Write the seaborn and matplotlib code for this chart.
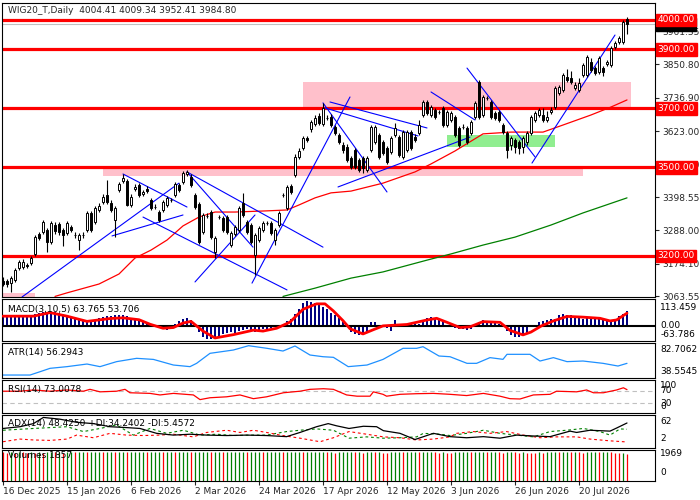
import numpy as np
import pandas as pd
import matplotlib
matplotlib.use("Agg")
import matplotlib.pyplot as plt
import matplotlib.transforms as mtrans
from matplotlib.patches import Rectangle
import seaborn as sns

sns.set_style("white")
plt.rcParams['font.family'] = ['DejaVu Sans']

# ---------------- data ----------------
opens = [3116, 3114, 3108, 3119, 3159, 3162, 3168, 3176, 3207, 3275,
         3281, 3288, 3247, 3305, 3308, 3288, 3278, 3298, 3272, 3254,
         3272, 3288, 3346, 3315, 3356, 3383, 3407, 3380, 3322, 3424,
         3454, 3454, 3373, 3427, 3441, 3410, 3427, 3390, 3367, 3349,
         3356, 3373, 3391, 3407, 3441, 3451, 3478, 3468, 3407, 3376,
         3281, 3337, 3349, 3213, 3333, 3329, 3332, 3237, 3275, 3288,
         3380, 3315, 3305, 3203, 3254, 3288, 3313, 3312, 3254, 3305,
         3408, 3363, 3437, 3475, 3536, 3566, 3600, 3630, 3647, 3675,
         3647, 3669, 3671, 3637, 3610, 3576, 3569, 3532, 3559, 3525,
         3532, 3491, 3559, 3586, 3610, 3586, 3566, 3553, 3610, 3603,
         3536, 3559, 3620, 3603, 3617, 3678, 3722, 3678, 3695, 3689,
         3702, 3644, 3661, 3671, 3634, 3638, 3634, 3617, 3671, 3790,
         3678, 3737, 3722, 3685, 3688, 3644, 3617, 3576, 3593, 3586,
         3569, 3586, 3617, 3661, 3678, 3678, 3661, 3688, 3705, 3753,
         3763, 3807, 3803, 3770, 3763, 3814, 3814, 3858, 3837, 3824,
         3837, 3850, 3847, 3908, 3925, 3925, 4004.41]
closes = [3106, 3104, 3125, 3152, 3180, 3180, 3166, 3193, 3264, 3261,
          3315, 3247, 3312, 3285, 3281, 3271, 3312, 3288, 3271, 3271,
          3270, 3346, 3288, 3363, 3369, 3400, 3383, 3356, 3363, 3444,
          3464, 3373, 3400, 3434, 3407, 3417, 3420, 3363, 3366, 3322,
          3383, 3397, 3390, 3444, 3424, 3481, 3485, 3441, 3366, 3247,
          3339, 3336, 3264, 3261, 3332, 3288, 3281, 3278, 3298, 3363,
          3339, 3281, 3247, 3271, 3295, 3312, 3312, 3278, 3288, 3346,
          3407, 3434, 3417, 3536, 3556, 3600, 3593, 3655, 3668, 3651,
          3702, 3668, 3644, 3617, 3586, 3559, 3525, 3502, 3502, 3491,
          3498, 3532, 3637, 3637, 3536, 3549, 3519, 3600, 3634, 3542,
          3620, 3620, 3566, 3593, 3644, 3722, 3685, 3705, 3671, 3688,
          3644, 3688, 3685, 3610, 3576, 3637, 3586, 3654, 3719, 3671,
          3739, 3736, 3671, 3668, 3661, 3620, 3559, 3600, 3569, 3566,
          3600, 3617, 3671, 3685, 3695, 3661, 3671, 3695, 3769, 3773,
          3814, 3797, 3790, 3780, 3786, 3847, 3875, 3830, 3820, 3871,
          3824, 3858, 3905, 3922, 3939, 3993, 3984.80]
highs = [3128, 3122, 3132, 3160, 3188, 3190, 3175, 3200, 3270, 3282,
         3322, 3295, 3318, 3315, 3315, 3295, 3320, 3305, 3280, 3278,
         3280, 3352, 3352, 3370, 3378, 3410, 3458, 3390, 3370, 3452,
         3478, 3462, 3410, 3444, 3448, 3424, 3437, 3397, 3376, 3356,
         3390, 3403, 3398, 3451, 3448, 3488, 3492, 3478, 3415, 3383,
         3346, 3346, 3356, 3268, 3340, 3336, 3340, 3285, 3305, 3370,
         3415, 3322, 3312, 3278, 3302, 3318, 3320, 3318, 3295, 3352,
         3415, 3441, 3444, 3545, 3565, 3608, 3608, 3662, 3678, 3685,
         3719, 3678, 3680, 3645, 3618, 3585, 3578, 3540, 3566, 3532,
         3540, 3540, 3645, 3645, 3618, 3593, 3573, 3608, 3652, 3610,
         3628, 3627, 3628, 3612, 3660, 3730, 3730, 3712, 3702, 3696,
         3710, 3695, 3692, 3678, 3640, 3646, 3641, 3661, 3726, 3797,
         3746, 3744, 3729, 3692, 3695, 3651, 3624, 3607, 3600, 3593,
         3607, 3624, 3678, 3692, 3702, 3700, 3690, 3705, 3776, 3780,
         3821, 3835, 3828, 3790, 3805, 3854, 3882, 3870, 3845, 3879,
         3844, 3866, 3912, 3930, 3946, 4000, 4009.34]
lows = [3098, 3095, 3078, 3112, 3152, 3155, 3158, 3168, 3200, 3255,
        3275, 3213, 3240, 3275, 3272, 3234, 3270, 3280, 3262, 3220,
        3262, 3282, 3282, 3308, 3350, 3376, 3376, 3350, 3264, 3418,
        3448, 3368, 3366, 3420, 3400, 3403, 3412, 3356, 3358, 3315,
        3349, 3366, 3383, 3400, 3418, 3444, 3470, 3434, 3360, 3240,
        3275, 3328, 3258, 3193, 3325, 3281, 3275, 3230, 3268, 3281,
        3332, 3275, 3240, 3136, 3247, 3282, 3305, 3271, 3237, 3298,
        3400, 3356, 3410, 3468, 3530, 3559, 3586, 3620, 3640, 3644,
        3640, 3660, 3637, 3610, 3578, 3550, 3518, 3495, 3495, 3484,
        3480, 3484, 3552, 3580, 3530, 3542, 3512, 3546, 3604, 3536,
        3530, 3552, 3558, 3586, 3610, 3672, 3678, 3670, 3664, 3680,
        3637, 3636, 3654, 3603, 3569, 3630, 3578, 3610, 3664, 3664,
        3671, 3728, 3664, 3660, 3654, 3613, 3532, 3560, 3548, 3545,
        3550, 3575, 3610, 3654, 3671, 3654, 3654, 3680, 3698, 3746,
        3756, 3790, 3783, 3763, 3756, 3807, 3807, 3823, 3813, 3817,
        3810, 3843, 3840, 3900, 3918, 3918, 3952.41]

# moving averages (bar, price) read at intervals
ma_red = [(13, 3063), (16, 3075), (24, 3105), (29, 3139), (33, 3193), (37, 3220),
          (41, 3254), (45, 3302), (49, 3332), (53, 3349), (58, 3349), (66, 3353),
          (71, 3356), (74, 3373), (78, 3397), (82, 3414), (87, 3420), (95, 3447),
          (103, 3485), (107, 3512), (113, 3556), (120, 3614), (127, 3620),
          (135, 3620), (140, 3644), (147, 3678), (152, 3705), (156, 3729)]
ma_green = [(70, 3063), (78, 3091), (87, 3125), (95, 3146), (106, 3186),
            (112, 3207), (120, 3237), (128, 3264), (137, 3305), (145, 3346),
            (156, 3397)]

levels = [4000, 3900, 3700, 3500, 3200]
price_ticks = [3961.35, 3850.80, 3736.90, 3623.00, 3509.10, 3398.55, 3288.00, 3174.10, 3063.55]
bid = 3984.80

# zones: (bar_from, bar_to, price_lo, price_hi)
pink_zones = [(75, 157, 3700, 3790), (25, 145, 3471, 3500), (-0.25, 8, 3058, 3075)]
green_zones = [(111, 138, 3569, 3610)]

# trendlines: ((bar, price), (bar, price))
trendlines = [((4.75, 3061), (44, 3447)), ((30, 3478), (46, 3366)),
              ((27.25, 3268), (45, 3339)), ((35, 3332), (71, 3085)),
              ((46, 3485), (80, 3230)), ((46, 3485), (62.5, 3230)),
              ((48, 3112), (63, 3339)), ((62.25, 3108), (86.75, 3739)),
              ((80, 3719), (96, 3417)), ((81.75, 3722), (106, 3634)),
              ((80.5, 3702), (103.75, 3607)), ((83.75, 3434), (116.75, 3603)),
              ((107, 3756), (118, 3661)), ((116, 3837), (133, 3536)),
              ((132.25, 3515), (153, 3949))]

macd_hist = [46, 46, 45, 45, 44, 44, 45, 46,
             50, 55, 57, 58, 58, 57, 55, 52,
             40, 35, 30, 28, 25, 22, 20, 22,
             32, 38, 40, 40, 45, 48, 47, 42,
             30, 25, 20, 18, 12, 8, 4, -10, -15, -18, -3,
             10, 20, 30, 33, 25, 2,
             -25, -45, -55, -57, -55, -45, -35,
             -30, -25, -28, -20, -18,
             -15, -20, -25, -22, -15, -12,
             -8, -5, -3, 0, 20, 30,
             50, 70, 95, 104, 100, 95, 90,
             80, 70, 55, 45, 35, 15, -5,
             -25, -35, -40, -38, -30, 15, 18,
             3, -3, -10, -22, 25, 8, 6, 5, 8, 10, 6,
             25, 35, 38, 35, 30, 20,
             2, -5, -10, -15, -15, -18, -12,
             10, 18, 25, 20, 15, 12, 10, 8,
             -20, -40, -45, -45, -40, -35, -5, 0,
             15, 20, 25, 28, 30,
             45, 50, 48, 45, 35, 35, 30,
             32, 33, 30, 28, 25, 22, 20, 25,
             40, 50, 63.765]
macd_signal = [(0, 41), (7.6, 41), (11.75, 56), (16, 41), (21, 19), (26.75, 31),
               (30, 34), (34, 26), (36.75, 7), (40, -10), (42.6, -7), (45, 12),
               (47, 19), (50, -22), (53, -51), (57.6, -37), (62.6, -18), (65, -22),
               (68.4, -10), (71.75, 16), (75, 70), (78.4, 93), (80.5, 93), (82.6, 63),
               (85, 22), (86.75, -12), (90, -34), (92.6, -16), (95, 0), (101, 6),
               (106, 25), (108.4, 32), (111, 15), (114.25, -7), (116.75, -4),
               (120, 18), (124.25, 15), (126.75, -19), (130, -38), (132, -26),
               (134.6, 0), (137.6, 21), (141, 40), (145, 37), (149.25, 32),
               (151.75, 21), (153.4, 25), (156, 53.706)]

atr = [(0, 41.1), (6.75, 41.1), (9.25, 45.4), (11.75, 49.8), (16, 52), (21, 55.4),
       (24.25, 52), (28.4, 58.5), (33.4, 62.8), (37.6, 61.4), (42.6, 54.1),
       (46.75, 52), (48.4, 56.3), (51.75, 69.3), (57.6, 73.6), (61.4, 79.2),
       (66, 75.8), (70, 72.3), (73, 78.8), (76.75, 67.1), (80, 64.9), (82.6, 64.1),
       (86.3, 52), (91, 54.1), (95, 61.4), (100, 75.8), (103.4, 75.8), (105, 77.9),
       (109, 65.8), (111.75, 64.9), (116, 56.3), (118.4, 56.3), (121.75, 63.7),
       (125, 61.5), (126, 68), (131.75, 68), (134.25, 59.3), (137.6, 63.7),
       (141, 58.5), (145, 59.3), (150, 56.3), (153.75, 52.8), (156, 56.29)]

rsi = [(0, 68), (4.25, 68), (7.6, 72), (11.75, 68), (16, 72), (20.1, 68), (21.75, 74),
       (24.25, 66), (28.4, 68), (30.5, 74), (31.75, 63), (36.75, 61), (39.25, 56),
       (42.6, 61), (47.6, 56), (49.25, 41), (51.75, 47), (55.9, 50), (59.25, 56),
       (62.6, 44), (65.9, 50), (70.1, 63), (74.25, 68), (76.75, 74), (80.1, 76),
       (82.6, 74), (85.9, 56), (88.5, 52), (91.75, 52), (92.6, 66), (95, 58),
       (95.9, 52), (99.25, 58), (103.4, 60), (107.6, 61), (111.75, 58), (115.9, 54),
       (120.1, 61), (124.25, 52), (126.75, 44), (129.25, 43), (132.6, 56),
       (136.75, 58), (138.4, 68), (143.4, 66), (145.9, 72), (147.6, 63),
       (150.1, 63), (153.4, 72), (155.1, 79), (156, 73.0)]

adx = [(0, 36), (4.25, 40), (7.6, 47), (10.1, 61), (14.25, 57), (18.4, 50), (22.6, 47),
       (26.75, 40), (30.9, 38), (34.25, 36), (38.4, 25), (42.6, 21), (46.75, 23),
       (50.9, 21), (55.9, 20), (60.9, 21), (65.9, 20), (70.9, 17.5), (74.25, 27),
       (78.4, 40), (81.3, 47), (83.4, 42), (86.5, 36), (90.1, 41), (93.4, 40),
       (95.1, 31), (99.25, 25), (103, 11), (107.6, 25), (111.75, 17.5), (115.9, 15),
       (120.1, 17.5), (124.25, 14), (128.4, 21), (132.6, 19), (136.75, 17.5),
       (141.75, 30), (143.4, 27), (146.75, 32), (151.75, 30), (153.4, 37), (156, 48.4)]
plus_di = [(0, 32), (7.6, 36), (16, 40), (20.1, 29), (24.25, 36), (28.4, 44),
           (32.6, 21), (36.75, 36), (40.9, 25), (45.1, 32), (49.25, 21), (53.4, 23),
           (57.6, 20), (61.75, 21), (65.9, 21), (70.9, 29), (74.25, 32), (78.4, 35),
           (82.6, 32), (86.5, 14), (90.9, 17), (95.1, 14), (99.25, 15), (103.4, 17),
           (105.1, 25), (109.25, 23), (111.75, 20), (115.9, 25), (120.1, 32),
           (124.25, 25), (128.4, 21), (132.6, 17), (136.75, 29), (140.9, 32),
           (145.1, 36), (149.25, 29), (151.75, 21), (154.25, 35), (156, 34.24)]
minus_di = [(0, 6), (4.25, 12), (7.6, 10), (11.75, 9), (16, 12), (18.4, 21), (22.6, 15),
            (26.75, 25), (30.9, 21), (35.1, 20), (39.25, 21), (42.6, 23), (47.6, 17),
            (50.9, 27), (55.9, 32), (59.25, 27), (62.6, 32), (65.9, 27), (69.25, 21),
            (74.25, 14), (79.25, 6), (82.6, 15), (86.5, 29), (90.9, 23), (95.1, 17),
            (99.25, 15), (103.4, 10), (107.6, 12), (111.75, 17), (113.4, 25),
            (117.6, 29), (121.75, 25), (125.9, 29), (130.1, 21), (134.25, 15),
            (138.4, 17), (143.4, 17), (146.75, 12), (151.75, 8), (156, 5.46)]

volumes = [1940, 1925, 1950, 1930, 1955, 1935, 1915, 1945, 1925, 1950,
           1930, 1945, 1960, 1935, 1950, 1930, 1948, 1962, 1940, 1955,
           1966, 1940, 1950, 1958, 1965, 1935, 1950, 1962, 1940, 1955,
           1965, 1938, 1945, 1952, 1960, 1967, 1935, 1945, 1955, 1963,
           1940, 1950, 1960, 1935, 1945, 1955, 1965, 1940, 1952, 1963,
           1968, 1969, 1940, 1952, 1962, 1938, 1946, 1955, 1962, 1966,
           1969, 1942, 1950, 1958, 1965, 1940, 1948, 1955, 1961, 1967,
           1938, 1946, 1954, 1960, 1966, 1940, 1950, 1958, 1965, 1968,
           1969, 1935, 1950, 1930, 1945, 1955, 1962, 1967, 1940, 1950,
           1900, 1945, 1958, 1935, 1950, 1930, 1915, 1935, 1955, 1965,
           1940, 1950, 1958, 1965, 1938, 1948, 1958, 1966, 1942, 1925,
           1945, 1928, 1915, 1935, 1948, 1958, 1966, 1940, 1955, 1962,
           1968, 1940, 1952, 1962, 1938, 1922, 1945, 1958, 1935, 1920,
           1945, 1930, 1915, 1900, 1935, 1920, 1940, 1955, 1965, 1940,
           1952, 1962, 1938, 1950, 1932, 1918, 1940, 1955, 1965, 1940,
           1952, 1962, 1935, 1915, 1895, 1930, 1857]

date_bars = [0, 16, 32, 48, 64, 80, 96, 112, 128, 144]
date_labels = ["16 Dec 2025", "15 Jan 2026", "6 Feb 2026", "2 Mar 2026", "24 Mar 2026",
               "17 Apr 2026", "12 May 2026", "3 Jun 2026", "26 Jun 2026", "20 Jul 2026"]

# ---------------- layout (pixel based) ----------------
W, H = 700, 500
fig = plt.figure(figsize=(W / 100, H / 100), dpi=100)
FS = 6.5


def panel(top, bottom):
    ax = fig.add_axes([2 / W, 1 - bottom / H, 653 / W, (bottom - top) / H])
    ax.set_xlim(-0.25, 163)
    ax.set_xticks([])
    ax.set_yticks([])
    for s in ax.spines.values():
        s.set_linewidth(0.8)
        s.set_color("black")
    return ax


def rtext(ax, frac, txt):
    ax.text(1.008, frac, txt, transform=ax.transAxes, ha="left", va="center",
            fontsize=FS, color="black", clip_on=False)


def ltext(ax, frac, txt):
    ax.text(6 / 653, frac, txt, transform=ax.transAxes, ha="left", va="center",
            fontsize=FS, color="black", zorder=10)


def pts(p):
    return pd.DataFrame(p, columns=["bar", "val"])


n = len(closes)
bars = np.arange(n)
o = np.array(opens)
c = np.array(closes)

# ---- main price panel ----
ax = panel(3, 297)
ax.set_ylim(3061, 4057.6)
for (b0, b1, lo, hi) in pink_zones:
    ax.add_patch(Rectangle((b0, lo), b1 - b0, hi - lo, color="#FFC0CB", lw=0, zorder=0))
for (b0, b1, lo, hi) in green_zones:
    ax.add_patch(Rectangle((b0, lo), b1 - b0, hi - lo, color="#90EE90", lw=0, zorder=0))
ax.axhline(bid, color="#C0C0C0", lw=0.8, zorder=1)
for lv in levels:
    ax.axhline(lv, color="red", lw=2.3, zorder=2)
sns.lineplot(data=pts(ma_red), x="bar", y="val", ax=ax, color="red", lw=0.9, zorder=3)
sns.lineplot(data=pts(ma_green), x="bar", y="val", ax=ax, color="#008000", lw=0.9, zorder=3)
for (p0, p1) in trendlines:
    ax.plot([p0[0], p1[0]], [p0[1], p1[1]], color="blue", lw=0.8, zorder=4)
ax.vlines(bars, lows, highs, color="black", lw=0.8, zorder=5)
body_lo = np.minimum(o, c)
body_h = np.maximum(np.abs(c - o), 0.5)
face = ["white" if cc >= oo else "black" for oo, cc in zip(o, c)]
ax.bar(bars, body_h, bottom=body_lo, width=0.55, color=face, edgecolor="black",
       lw=0.7, zorder=6)
ax.set_xlabel("")
ax.set_ylabel("")
ax.set_xticks([])
ax.yaxis.tick_right()
ax.set_yticks(price_ticks)
ax.set_yticklabels([f"{t:.2f}" for t in price_ticks])
ax.tick_params(axis="y", right=True, length=3, width=0.8, labelsize=FS, pad=2)
bt = mtrans.blended_transform_factory(ax.transAxes, ax.transData)
ax.text(1.004, bid, f"{bid:.2f}", transform=bt, ha="left", va="center", fontsize=FS,
        color="white", bbox=dict(fc="black", ec="black", pad=1.2), clip_on=False, zorder=20)
for lv in levels:
    ax.text(1.004, lv, f"{lv:.2f}", transform=bt, ha="left", va="center", fontsize=FS,
            color="white", bbox=dict(fc="red", ec="red", pad=1.2), clip_on=False, zorder=21)
ax.text(6 / 653, 0.976, "WIG20_T,Daily  4004.41 4009.34 3952.41 3984.80",
        transform=ax.transAxes, ha="left", va="center", fontsize=FS, zorder=10)

# ---- MACD ----
ax = panel(299, 341)
ax.set_ylim(-63.786, 113.459)
ax.bar(bars, macd_hist, width=0.7, color="#000080", edgecolor="none", lw=0, zorder=2)
ax.axhline(0, color="black", lw=1.5, zorder=3)
sns.lineplot(data=pts(macd_signal), x="bar", y="val", ax=ax, color="red", lw=2.0, zorder=4)
ax.set_xlabel(""); ax.set_ylabel(""); ax.set_xticks([])
ltext(ax, 0.76, "MACD(3,10,5) 63.765 53.706")
rtext(ax, 0.786, "113.459")
ax.text(1.008, 63.786 / 177.245, "0.00", transform=ax.transAxes, ha="left", va="center",
        fontsize=FS, color="black", clip_on=False,
        bbox=dict(fc="none", ec="none", pad=0.5))
rtext(ax, 0.143, "-63.786")

# ---- ATR ----
ax = panel(343, 378)
ax.set_ylim(37.25, 82.71)
sns.lineplot(data=pts(atr), x="bar", y="val", ax=ax, color="#1E90FF", lw=0.9)
ax.set_xlabel(""); ax.set_ylabel(""); ax.set_xticks([])
ltext(ax, 0.74, "ATR(14) 56.2943")
rtext(ax, 0.8, "82.7062")
rtext(ax, 0.2, "38.5545")

# ---- RSI ----
ax = panel(380, 413)
ax.set_ylim(-2, 104)
for lv in (70, 30):
    ax.axhline(lv, color="#C0C0C0", lw=0.8, ls=(0, (4, 3)))
sns.lineplot(data=pts(rsi), x="bar", y="val", ax=ax, color="red", lw=0.9)
ax.set_xlabel(""); ax.set_ylabel(""); ax.set_xticks([])
ltext(ax, 0.72, "RSI(14) 73.0078")
rtext(ax, 0.844, "100")
rtext(ax, 72 / 106, "70")
rtext(ax, 32 / 106, "30")
rtext(ax, 0.1875, "0")

# ---- ADX ----
ax = panel(415, 448)
ax.set_ylim(-8.2, 66.5)
sns.lineplot(data=pts(plus_di), x="bar", y="val", ax=ax, color="#008000", lw=0.8,
             linestyle=(0, (2.5, 2.5)))
sns.lineplot(data=pts(minus_di), x="bar", y="val", ax=ax, color="red", lw=0.8,
             linestyle=(0, (2.5, 2.5)))
sns.lineplot(data=pts(adx), x="bar", y="val", ax=ax, color="black", lw=0.9)
ax.set_xlabel(""); ax.set_ylabel(""); ax.set_xticks([])
ltext(ax, 0.73, "ADX(14) 48.4250 +DI:34.2402 -DI:5.4572")
rtext(ax, 0.788, "62")
rtext(ax, 0.303, "2")

# ---- Volumes ----
ax = panel(450, 481)
ax.set_ylim(0, 2100)
vol = np.array(volumes)
vcol = ["red"] + ["#008000" if vol[i] > vol[i - 1] else "red" for i in range(1, n)]
ax.vlines(bars, 0, vol, colors=vcol, lw=0.9)
ltext(ax, 0.81, "Volumes 1857")
rtext(ax, 0.871, "1969")
rtext(ax, 0.29, "0")
ax.set_xticks(date_bars)
ax.set_xticklabels(date_labels)
ax.tick_params(axis="x", bottom=True, length=3, width=0.8, labelsize=FS, pad=1)
for lbl in ax.get_xticklabels():
    lbl.set_ha("left")

fig.savefig("out.png", dpi=100, facecolor="white")
